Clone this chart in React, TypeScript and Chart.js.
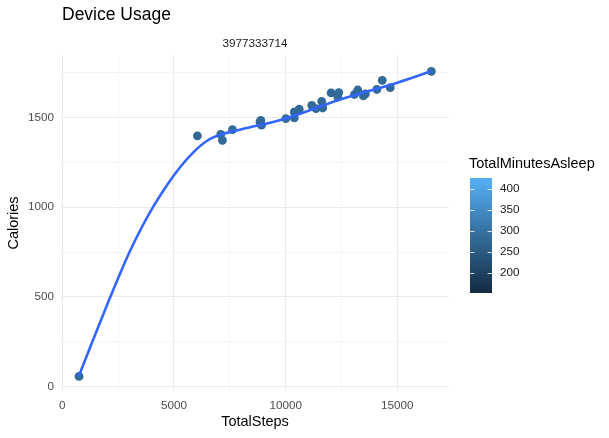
import React, { useEffect, useRef } from "react";
import { Chart, registerables } from "chart.js";

Chart.register(...registerables);

const TITLE = "Device Usage";
const FACET_LABEL = "3977333714";
const X_TITLE = "TotalSteps";
const Y_TITLE = "Calories";
const LEGEND_TITLE = "TotalMinutesAsleep";

// Observed points
const totalSteps = [750, 6050, 7095, 7170, 7620, 8850, 8890, 8920, 10010, 10390, 10390, 10610, 11170, 11360, 11615, 11660, 12035, 12380, 12335, 13080, 13230, 13480, 13570, 14085, 14325, 14685, 16525];
const calories = [57, 1397, 1405, 1372, 1432, 1475, 1483, 1456, 1493, 1530, 1497, 1545, 1567, 1548, 1589, 1552, 1636, 1638, 1614, 1627, 1652, 1620, 1630, 1655, 1706, 1665, 1756];
const minutesAsleep = [280, 275, 282, 278, 285, 276, 281, 279, 283, 277, 284, 280, 278, 282, 279, 281, 276, 284, 280, 283, 277, 281, 279, 282, 278, 280, 283];

// Smoothed (loess) curve
const smoothSteps = [732, 1855, 2527, 3053, 3578, 4100, 4700, 5300, 5900, 6500, 7100, 7990, 10000, 12480, 15000, 16525];
const smoothCalories = [57, 409, 612, 761, 892, 1008, 1125, 1226, 1309, 1371, 1404, 1432, 1493, 1601, 1693, 1756];

// Axis ticks (major carry labels, minor are grid only)
const xGridValues = [0, 2500, 5000, 7500, 10000, 12500, 15000];
const xLabelValues = [0, 5000, 10000, 15000];
const yGridValues = [0, 250, 500, 750, 1000, 1250, 1500, 1750];
const yLabelValues = [0, 500, 1000, 1500];

// Colour bar
const legendTicks = [200, 250, 300, 350, 400];
const ASLEEP_MIN = 151;
const ASLEEP_MAX = 426;
const LOW_COLOR = [19, 43, 67];
const HIGH_COLOR = [86, 177, 247];

const FONT = "'Liberation Sans', Arial, Helvetica, sans-serif";

function asleepColor(v: number): string {
  const t = Math.max(0, Math.min(1, (v - ASLEEP_MIN) / (ASLEEP_MAX - ASLEEP_MIN)));
  const c = LOW_COLOR.map((lo, i) => Math.round(lo + (HIGH_COLOR[i] - lo) * t));
  return `rgb(${c[0]},${c[1]},${c[2]})`;
}

const decorPlugin = {
  id: "decor",
  afterDraw(chart: any) {
    const ctx = chart.ctx as CanvasRenderingContext2D;
    const area = chart.chartArea;
    ctx.save();
    ctx.fillStyle = "#000";
    ctx.font = `17.5px ${FONT}`;
    ctx.textAlign = "left";
    ctx.textBaseline = "middle";
    ctx.fillText(TITLE, 62, 15);
    ctx.fillStyle = "#1a1a1a";
    ctx.font = `11.7px ${FONT}`;
    ctx.textAlign = "center";
    ctx.fillText(FACET_LABEL, (area.left + area.right) / 2, 44);

    const barX = 470, barW = 22, barTop = 178, barBottom = 293;
    ctx.fillStyle = "#000";
    ctx.font = `14.5px ${FONT}`;
    ctx.textAlign = "left";
    ctx.fillText(LEGEND_TITLE, 469, 164);
    const steps = 40;
    for (let i = 0; i < steps; i++) {
      const y0 = barTop + (barBottom - barTop) * (i / steps);
      const y1 = barTop + (barBottom - barTop) * ((i + 1) / steps);
      const v = ASLEEP_MAX - (ASLEEP_MAX - ASLEEP_MIN) * ((i + 0.5) / steps);
      ctx.fillStyle = asleepColor(v);
      ctx.fillRect(barX, Math.floor(y0), barW, Math.ceil(y1) - Math.floor(y0));
    }
    ctx.font = `11.7px ${FONT}`;
    ctx.fillStyle = "#1a1a1a";
    legendTicks.forEach((t) => {
      const y = barBottom - ((t - ASLEEP_MIN) / (ASLEEP_MAX - ASLEEP_MIN)) * (barBottom - barTop);
      ctx.strokeStyle = "rgba(255,255,255,0.8)";
      ctx.lineWidth = 1;
      ctx.beginPath();
      ctx.moveTo(barX, Math.round(y) + 0.5);
      ctx.lineTo(barX + 4.4, Math.round(y) + 0.5);
      ctx.moveTo(barX + barW - 4.4, Math.round(y) + 0.5);
      ctx.lineTo(barX + barW, Math.round(y) + 0.5);
      ctx.stroke();
      ctx.fillText(String(t), 500, y);
    });
    ctx.restore();
  },
};

export default function App() {
  const ref = useRef<HTMLCanvasElement | null>(null);
  useEffect(() => {
    if (!ref.current) return;
    const points = totalSteps.map((x, i) => ({ x, y: calories[i] }));
    const smooth = smoothSteps.map((x, i) => ({ x, y: smoothCalories[i] }));
    const gridColor = (labels: number[]) => (c: any) =>
      c.tick && labels.includes(c.tick.value) ? "#ebebeb" : "#f2f2f2";
    const gridWidth = (labels: number[]) => (c: any) =>
      c.tick && labels.includes(c.tick.value) ? 1.1 : 0.7;
    const chart = new Chart(ref.current, {
      type: "scatter",
      data: {
        datasets: [
          {
            type: "line",
            data: smooth,
            borderColor: "#3366FF",
            borderWidth: 2.6,
            pointRadius: 0,
            showLine: true,
            fill: false,
            tension: 0.4,
            order: 0,
          } as any,
          {
            type: "scatter",
            data: points,
            backgroundColor: minutesAsleep.map(asleepColor),
            borderColor: minutesAsleep.map(asleepColor),
            borderWidth: 0,
            pointRadius: 4.4,
            order: 1,
          } as any,
        ],
      },
      options: {
        responsive: false,
        animation: false,
        events: [],
        layout: { padding: { left: 0, top: 55, right: 160, bottom: 0 } },
        plugins: { legend: { display: false }, tooltip: { enabled: false }, title: { display: false } },
        scales: {
          x: {
            type: "linear",
            min: -58,
            max: 17315,
            afterFit: (s: any) => { s.height = 47; },
            afterBuildTicks: (s: any) => { s.ticks = xGridValues.map((v) => ({ value: v })); },
            border: { display: false },
            grid: { color: gridColor(xLabelValues), lineWidth: gridWidth(xLabelValues), drawTicks: false },
            ticks: {
              padding: 8,
              autoSkip: false,
              maxRotation: 0,
              color: "#4d4d4d",
              font: { family: FONT, size: 11.7 },
              callback: (v: any) => (xLabelValues.includes(Number(v)) ? String(v) : ""),
            },
            title: {
              display: true,
              text: X_TITLE,
              color: "#000",
              font: { family: FONT, size: 14.5 },
              padding: { top: 0, bottom: 7 },
            },
          },
          y: {
            type: "linear",
            min: -24,
            max: 1847,
            afterFit: (s: any) => { s.width = 61; },
            afterBuildTicks: (s: any) => { s.ticks = yGridValues.map((v) => ({ value: v })); },
            border: { display: false },
            grid: { color: gridColor(yLabelValues), lineWidth: gridWidth(yLabelValues), drawTicks: false },
            ticks: {
              padding: 7,
              autoSkip: false,
              color: "#4d4d4d",
              font: { family: FONT, size: 11.7 },
              callback: (v: any) => (yLabelValues.includes(Number(v)) ? String(v) : ""),
            },
            title: {
              display: true,
              text: Y_TITLE,
              color: "#000",
              font: { family: FONT, size: 14.5 },
              padding: { top: 5, bottom: 0 },
            },
          },
        },
      },
      plugins: [decorPlugin],
    });
    return () => chart.destroy();
  }, []);
  return (
    <div style={{ position: "absolute", left: 0, top: 0, width: 609, height: 438, background: "#fff" }}>
      <canvas ref={ref} width={609} height={438} style={{ display: "block" }} />
    </div>
  );
}
